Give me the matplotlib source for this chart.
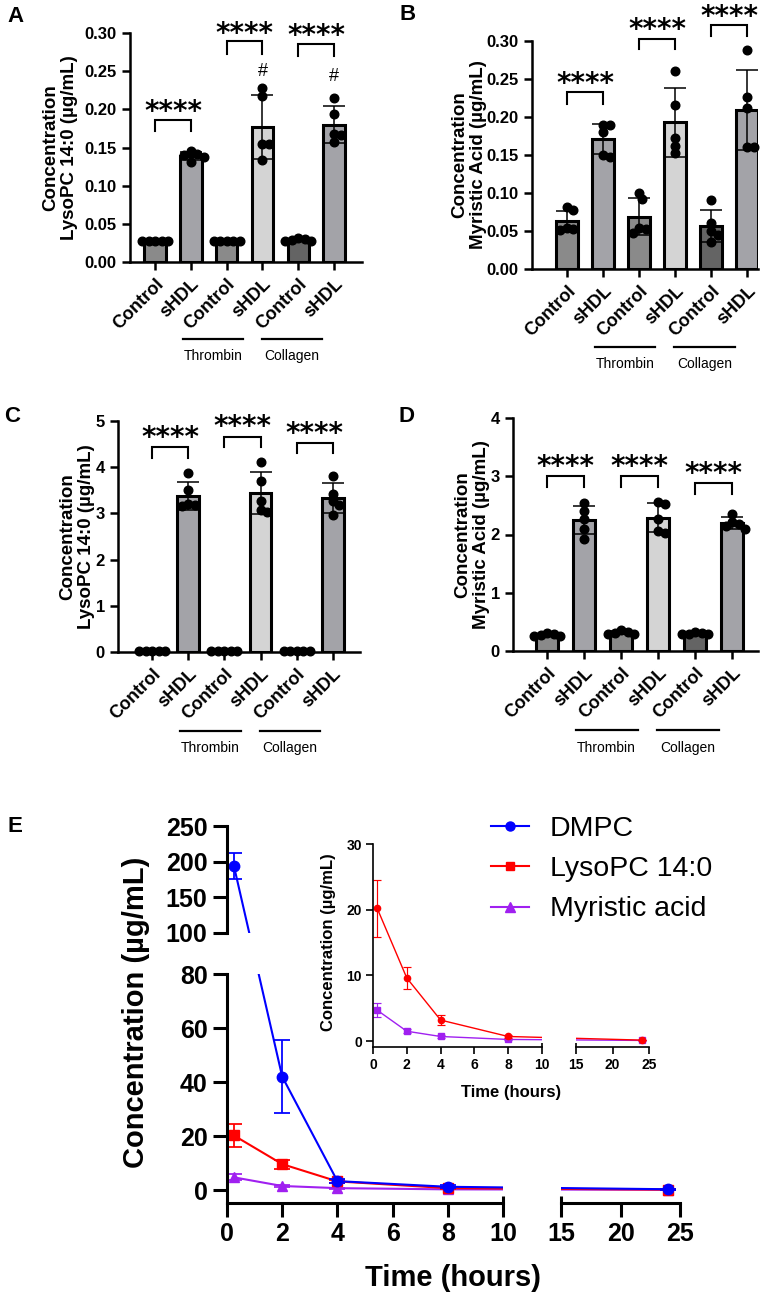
import numpy as np
import matplotlib
matplotlib.use("Agg")
import matplotlib.pyplot as plt
import matplotlib.transforms as mtransforms
from matplotlib.lines import Line2D

plt.rcParams['font.family'] = ['Liberation Sans', 'DejaVu Sans']
plt.rcParams['font.weight'] = 'bold'
plt.rcParams['axes.labelweight'] = 'bold'

# ---------------- data: bar panels (mean, SD, individual points) ----------------
categories = ['Control', 'sHDL', 'Control', 'sHDL', 'Control', 'sHDL']
groups = ['Thrombin', 'Collagen']

a_means = [0.028, 0.139, 0.028, 0.177, 0.029, 0.180]
a_sds = [0.001, 0.005, 0.001, 0.042, 0.001, 0.024]
a_points = [[0.028, 0.028, 0.028, 0.028, 0.028],
            [0.145, 0.142, 0.140, 0.137, 0.131],
            [0.028, 0.028, 0.028, 0.028, 0.028],
            [0.228, 0.217, 0.155, 0.154, 0.133],
            [0.031, 0.030, 0.029, 0.028, 0.028],
            [0.215, 0.194, 0.168, 0.167, 0.157]]

b_means = [0.063, 0.171, 0.069, 0.193, 0.056, 0.209]
b_sds = [0.013, 0.020, 0.024, 0.045, 0.021, 0.053]
b_points = [[0.082, 0.077, 0.054, 0.052, 0.051],
            [0.189, 0.189, 0.180, 0.150, 0.148],
            [0.100, 0.092, 0.054, 0.052, 0.047],
            [0.260, 0.216, 0.173, 0.162, 0.152],
            [0.091, 0.060, 0.050, 0.045, 0.036],
            [0.288, 0.226, 0.212, 0.160, 0.160]]

c_means = [0.02, 3.38, 0.02, 3.44, 0.02, 3.33]
c_sds = [0.005, 0.30, 0.005, 0.46, 0.005, 0.33]
c_points = [[0.02, 0.02, 0.02, 0.02, 0.02],
            [3.87, 3.51, 3.20, 3.19, 3.15],
            [0.02, 0.02, 0.02, 0.02, 0.02],
            [4.12, 3.70, 3.26, 3.08, 3.04],
            [0.02, 0.02, 0.02, 0.02, 0.02],
            [3.82, 3.42, 3.26, 3.19, 2.97]]

d_means = [0.27, 2.25, 0.32, 2.29, 0.30, 2.20]
d_sds = [0.02, 0.24, 0.03, 0.25, 0.01, 0.10]
d_points = [[0.31, 0.29, 0.27, 0.26, 0.25],
            [2.54, 2.40, 2.26, 2.10, 1.93],
            [0.36, 0.33, 0.31, 0.30, 0.29],
            [2.56, 2.53, 2.26, 2.06, 2.03],
            [0.32, 0.31, 0.30, 0.30, 0.29],
            [2.36, 2.21, 2.18, 2.14, 2.10]]

# significance brackets: (bracket top, leg bottom, star height) per pair
a_brackets = [(0.186, 0.172, 0.207), (0.289, 0.273, 0.309), (0.285, 0.270, 0.307)]
a_hash = [(3, 0.252), (5, 0.245)]
b_brackets = [(0.233, 0.217, 0.254), (0.303, 0.289, 0.325), (0.321, 0.306, 0.342)]
c_brackets = [(4.44, 4.20, 4.81), (4.66, 4.44, 5.05), (4.53, 4.31, 4.90)]
d_brackets = [(3.01, 2.81, 3.30), (3.01, 2.81, 3.30), (2.89, 2.70, 3.17)]

# ---------------- data: time course (panel E) ----------------
time_h = [0.25, 2, 4, 8, 24]
dmpc = [194, 42, 3.3, 1.2, 0.3]
dmpc_sd = [18, 13.5, 0.8, 0.5, 0.2]
lyso = [20.2, 9.6, 3.2, 0.7, 0.15]
lyso_sd = [4.3, 1.7, 0.7, 0.2, 0.05]
myr = [4.7, 1.5, 0.7, 0.25, 0.1]
myr_sd = [1.1, 0.3, 0.2, 0.05, 0.03]

# ---------------- figure ----------------
W, H = 775, 1298
fig = plt.figure(figsize=(W / 100, H / 100), dpi=100)


def add_px(l, t, r, b):
    return fig.add_axes([l / W, 1 - b / H, (r - l) / W, (b - t) / H])


bar_colors = ['#8a8a8a', '#a3a3a8', '#8a8a8a', '#d4d4d4', '#646464', '#a3a3a8']
group_spans = [(0.77, 2.45), (2.98, 4.65)]


def swarm(ax, xc, ys, d):
    placed, xs = [], []
    inv = ax.transData.inverted()
    for y in ys:
        cx, cy = ax.transData.transform((xc, y))
        best = None
        for k in range(0, 20):
            for s in ([0] if k == 0 else [1, -1]):
                px = cx + s * k * d * 0.5
                if all((px - qx) ** 2 + (cy - qy) ** 2 >= d ** 2 for qx, qy in placed):
                    best = px
                    break
            if best is not None:
                break
        placed.append((best, cy))
        xs.append(inv.transform((best, cy))[0])
    return xs


def bar_panel(ax, means, sds, points, ylim, yticks, yfmt, ylabel, label_x,
              brackets, xlim, line_off, text_off):
    x = np.arange(len(means))
    ax.set_xlim(*xlim)
    ax.set_ylim(*ylim)
    ax.bar(x, means, 0.6, color=bar_colors, edgecolor='black', linewidth=2.2, zorder=2)
    ax.errorbar(x, means, yerr=sds, fmt='none', ecolor='black', elinewidth=1.1,
                capsize=8, capthick=1.1, zorder=3)
    for xi, pts in zip(x, points):
        xs = swarm(ax, xi, pts, 6.5)
        ax.plot(xs, pts, 'o', color='black', ms=6.2, zorder=4, clip_on=False)
    for sp in ['top', 'right']:
        ax.spines[sp].set_visible(False)
    for sp in ['left', 'bottom']:
        ax.spines[sp].set_linewidth(1.8)
    ax.tick_params(width=1.8, length=6, labelsize=12)
    ax.set_yticks(yticks)
    ax.set_yticklabels([yfmt.format(v) for v in yticks])
    ax.set_xticks(x)
    ax.set_xticklabels(categories, rotation=45, ha='right', rotation_mode='anchor',
                       fontsize=13)
    ax.set_ylabel(ylabel, fontsize=13.5, linespacing=1.1)
    ax.yaxis.set_label_coords(label_x, 0.5)
    for i, (top, leg, star) in enumerate(brackets):
        x0, x1 = 2 * i, 2 * i + 1
        ax.plot([x0, x0, x1, x1], [leg, top, top, leg], color='black', lw=1.5,
                clip_on=False, solid_joinstyle='miter')
        ax.annotate('****', (x0 + 0.5, star), xytext=(0, -11.6), textcoords='offset points',
                    ha='center', va='baseline', fontsize=20, family='DejaVu Sans',
                    annotation_clip=False)
    h = ax.bbox.height
    tr = mtransforms.blended_transform_factory(ax.transData, ax.transAxes)
    for (g0, g1), name in zip(group_spans, groups):
        ax.plot([g0, g1], [-line_off / h] * 2, transform=tr, color='black', lw=1.6,
                clip_on=False)
        ax.text((g0 + g1) / 2, -text_off / h, name, transform=tr, ha='center', va='center',
                fontsize=10, fontweight='normal')


axA = add_px(130, 33, 362, 262)
bar_panel(axA, a_means, a_sds, a_points, (0, 0.30), [0, 0.05, 0.10, 0.15, 0.20, 0.25, 0.30],
          '{:.2f}', 'Concentration\nLysoPC 14:0 (µg/mL)', -0.224, a_brackets,
          (-0.7, 5.78), 77, 94)
for xi, yv in a_hash:
    axA.annotate('#', (xi, yv), xytext=(0, -4.5), textcoords='offset points', ha='center',
                 va='baseline', fontsize=13, fontweight='normal', annotation_clip=False)

axB = add_px(532, 41, 758, 269)
bar_panel(axB, b_means, b_sds, b_points, (0, 0.30), [0, 0.05, 0.10, 0.15, 0.20, 0.25, 0.30],
          '{:.2f}', 'Concentration\nMyristic Acid (µg/mL)', -0.2, b_brackets,
          (-0.97, 5.3), 78, 95)

axC = add_px(118, 421, 360, 652)
bar_panel(axC, c_means, c_sds, c_points, (0, 5), [0, 1, 2, 3, 4, 5], '{:d}',
          'Concentration\nLysoPC 14:0 (µg/mL)', -0.095, c_brackets, (-0.94, 5.75), 79, 96)

axD = add_px(513, 418, 758, 651)
bar_panel(axD, d_means, d_sds, d_points, (0, 4), [0, 1, 2, 3, 4], '{:d}',
          'Concentration\nMyristic Acid (µg/mL)', -0.094, d_brackets, (-0.92, 5.7), 79, 97)

# ---------------- panel E: broken axes ----------------
ax_top = add_px(227, 826, 503, 933)
ax_bot = add_px(227, 974, 503, 1203)
ax_rt = add_px(561, 974, 680, 1203)
ax_top.set_xlim(0, 10)
ax_top.set_ylim(100, 250)
ax_bot.set_xlim(0, 10)
ax_bot.set_ylim(-4.8, 80)
ax_rt.set_xlim(15, 25)
ax_rt.set_ylim(-4.8, 80)

for ax in [ax_top, ax_bot, ax_rt]:
    for sp in ax.spines.values():
        sp.set_linewidth(2.2)
    ax.spines['top'].set_visible(False)
    ax.spines['right'].set_visible(False)
    ax.tick_params(width=2.2, length=10, labelsize=18, pad=4)
ax_top.spines['bottom'].set_visible(False)
ax_top.set_xticks([])
ax_top.set_yticks([100, 150, 200, 250])
ax_bot.set_yticks([0, 20, 40, 60, 80])
ax_bot.set_xticks([0, 2, 4, 6, 8, 10])
ax_rt.spines['left'].set_visible(False)
ax_rt.set_yticks([])
ax_rt.set_xticks([15, 20, 25])

# inset
ax_in = add_px(373, 844, 542, 1047)
ax_in2 = add_px(576, 844, 649, 1047)
ax_in.set_xlim(0, 10)
ax_in.set_ylim(-0.9, 30)
ax_in2.set_xlim(15, 25)
ax_in2.set_ylim(-0.9, 30)
for ax in [ax_in, ax_in2]:
    ax.patch.set_alpha(0)
    for sp in ax.spines.values():
        sp.set_linewidth(1.2)
    ax.spines['top'].set_visible(False)
    ax.spines['right'].set_visible(False)
    ax.tick_params(width=1.2, length=5, labelsize=10, pad=3)
ax_in.set_xticks([0, 2, 4, 6, 8, 10])
ax_in.set_yticks([0, 10, 20, 30])
ax_in2.spines['left'].set_visible(False)
ax_in2.set_yticks([])
ax_in2.set_xticks([15, 20, 25])

# break marks on the x axis ends
for ax, xv, up in [(ax_bot, 10, 7), (ax_rt, 15, 7), (ax_in, 10, 4), (ax_in2, 15, 4)]:
    tr = mtransforms.blended_transform_factory(ax.transData, ax.transAxes)
    ax.plot([xv, xv], [0, up / ax.bbox.height], transform=tr, color='black',
            lw=ax.spines['bottom'].get_linewidth(), clip_on=False, solid_capstyle='butt')

to_fig = fig.transFigure.inverted()


def draw_series(axes, pick, ys, sds, color, marker, ms, lw, cap, z):
    # straight segments in screen space, as across a broken axis
    pts = np.array([to_fig.transform(pick(t, v).transData.transform((t, v)))
                    for t, v in zip(time_h, ys)])
    for ax in axes:
        ax.add_line(Line2D(pts[:, 0], pts[:, 1], transform=fig.transFigure, color=color,
                           lw=lw, zorder=z))
        ax.errorbar(time_h, ys, yerr=sds, fmt='none', ecolor=color, elinewidth=lw * 0.85,
                    capsize=cap, capthick=lw * 0.85, zorder=z)
        ax.plot(time_h, ys, marker=marker, ls='none', color=color, ms=ms, zorder=z + 0.05)


def pick_main(t, v):
    if t > 10:
        return ax_rt
    return ax_top if v >= 100 else ax_bot


def pick_inset(t, v):
    return ax_in2 if t > 10 else ax_in


blue, red, purple = '#0000ff', '#ff0000', '#a020f0'
main_axes = [ax_top, ax_bot, ax_rt]
draw_series(main_axes, pick_main, myr, myr_sd, purple, '^', 7.5, 1.5, 6, 2.0)
draw_series(main_axes, pick_main, lyso, lyso_sd, red, 's', 7, 1.5, 6, 2.2)
draw_series(main_axes, pick_main, dmpc, dmpc_sd, blue, 'o', 7.5, 1.5, 6, 2.4)

inset_axes = [ax_in, ax_in2]
draw_series(inset_axes, pick_inset, myr, myr_sd, purple, 's', 4.2, 1.0, 3, 2.0)
draw_series(inset_axes, pick_inset, lyso, lyso_sd, red, 'o', 4.5, 1.0, 3, 2.2)

fig.text(136 / W, 1 - 1012 / H, 'Concentration (µg/mL)', rotation=90, ha='center',
         va='center', fontsize=21)
fig.text(453 / W, 1 - 1278 / H, 'Time (hours)', ha='center', va='center', fontsize=21)
fig.text(329 / W, 1 - 942 / H, 'Concentration (µg/mL)', rotation=90, ha='center',
         va='center', fontsize=12)
fig.text(511 / W, 1 - 1092 / H, 'Time (hours)', ha='center', va='center', fontsize=12)

handles = [Line2D([], [], color=blue, marker='o', ms=6.5, lw=1.5),
           Line2D([], [], color=red, marker='s', ms=6, lw=1.5),
           Line2D([], [], color=purple, marker='^', ms=6.5, lw=1.5)]
fig.legend(handles, ['DMPC', 'LysoPC 14:0', 'Myristic acid'], loc='upper left',
           bbox_to_anchor=(491 / W, 1 - 816 / H), frameon=False, borderpad=0,
           borderaxespad=0, handlelength=1.35, handletextpad=0.72, labelspacing=0.5,
           prop={'size': 20.5, 'weight': 'normal'})

# panel letters
for letter, px, py in [('A', 15, 17), ('B', 408, 15), ('C', 12, 416), ('D', 406, 416),
                       ('E', 15, 827)]:
    fig.text(px / W, 1 - py / H, letter, ha='center', va='center', fontsize=16)

fig.savefig('out.png', dpi=100)
